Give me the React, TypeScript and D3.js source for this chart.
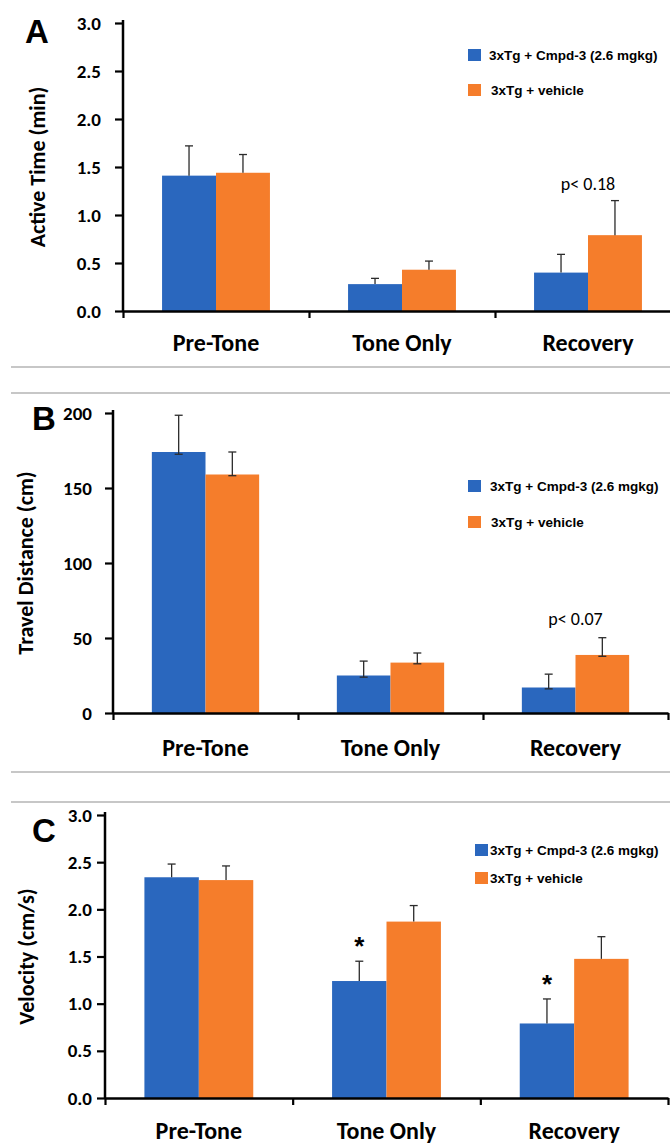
import React, { useRef, useEffect } from 'react'
import * as d3 from 'd3'

// categories + series
const categories = ['Pre-Tone', 'Tone Only', 'Recovery']
const seriesNames = ['3xTg + Cmpd-3 (2.6 mgkg)', '3xTg + vehicle']
const seriesColors = ['#2a67be', '#f57d2b']

// A - active time (min)
const activeCmpd = [1.41, 0.28, 0.40]
const activeCmpdErr = [0.31, 0.06, 0.19]
const activeVeh = [1.44, 0.43, 0.79]
const activeVehErr = [0.19, 0.09, 0.36]
const activeTicks = [0, 0.5, 1.0, 1.5, 2.0, 2.5, 3.0]

// B - travel distance (cm)
const distCmpd = [174, 25, 17]
const distCmpdErrUp = [24.5, 9.6, 8.9]
const distCmpdErrDown = [1.5, 1.1, 0.9]
const distVeh = [159, 33.6, 38.7]
const distVehErrUp = [15, 6.4, 11.5]
const distVehErrDown = [0.8, 0.8, 0.9]
const distTicks = [0, 50, 100, 150, 200]

// C - velocity (cm/s)
const velCmpd = [2.34, 1.24, 0.79]
const velCmpdErr = [0.14, 0.21, 0.26]
const velVeh = [2.31, 1.87, 1.475]
const velVehErr = [0.15, 0.17, 0.235]
const velTicks = [0, 0.5, 1.0, 1.5, 2.0, 2.5, 3.0]

const calibri = 'Carlito, Calibri, Lato, sans-serif'
const arial = 'Arial, "Liberation Sans", sans-serif'

const panels = [
    {
        letter: 'A', letterX: 25, letterY: 43,
        title: 'Active Time (min)', titleX: 37,
        x0: 123, x1: 681, yTop: 23, yBottom: 311, max: 3,
        ticks: activeTicks, fmt: d3.format('.1f'), labelGap: 22,
        values: [activeCmpd, activeVeh],
        errUp: [activeCmpdErr, activeVehErr],
        errDown: null,
        legendX: [468, 468], legendTextX: [489, 491], legendY: [49, 84],
        note: { text: 'p< 0.18', cat: 2, y: 190 },
        stars: [],
        catLabelY: 351,
    },
    {
        letter: 'B', letterX: 32, letterY: 430,
        title: 'Travel Distance (cm)', titleX: 25,
        x0: 113, x1: 668, yTop: 413, yBottom: 713, max: 200,
        ticks: distTicks, fmt: d3.format('d'), labelGap: 21,
        values: [distCmpd, distVeh],
        errUp: [distCmpdErrUp, distVehErrUp],
        errDown: [distCmpdErrDown, distVehErrDown],
        legendX: [468, 468], legendTextX: [490, 491], legendY: [480, 516],
        note: { text: 'p< 0.07', cat: 2, y: 625 },
        stars: [],
        catLabelY: 756,
    },
    {
        letter: 'C', letterX: 32, letterY: 842,
        title: 'Velocity (cm/s)', titleX: 26,
        x0: 105, x1: 668, yTop: 815, yBottom: 1098, max: 3,
        ticks: velTicks, fmt: d3.format('.1f'), labelGap: 13,
        values: [velCmpd, velVeh],
        errUp: [velCmpdErr, velVehErr],
        errDown: null,
        legendX: [475, 475], legendTextX: [490, 490], legendY: [844, 872],
        note: null,
        stars: [1, 2],
        catLabelY: 1139,
    },
]

const separators = [367, 393, 772, 802]

export default function App() {
    const svgRef = useRef<SVGSVGElement>(null)

    useEffect(() => {
        document.body.style.margin = '0'
        const svg = d3.select(svgRef.current)
        svg.selectAll('*').remove()

        svg.selectAll('.sep')
            .data(separators)
            .enter().append('line')
            .attr('x1', 11).attr('x2', 670)
            .attr('y1', d => d).attr('y2', d => d)
            .attr('stroke', '#b4b4b4')
            .attr('stroke-width', 1.5)

        panels.forEach(p => {
            const g = svg.append('g')
            const y = d3.scaleLinear().domain([0, p.max]).range([p.yBottom, p.yTop])
            const xCat = d3.scaleBand<string>()
                .domain(categories)
                .range([p.x0, p.x1])
                .paddingInner(0.42)
                .paddingOuter(0.21)
            const xSeries = d3.scaleBand<number>()
                .domain([0, 1])
                .range([0, xCat.bandwidth()])
            const xEdge = d3.scaleLinear().domain([0, categories.length]).range([p.x0, p.x1])

            // bars
            p.values.forEach((vals, s) => {
                g.append('g').selectAll('rect')
                    .data(vals)
                    .enter().append('rect')
                    .attr('x', (d, i) => xCat(categories[i])! + xSeries(s)!)
                    .attr('y', d => y(d))
                    .attr('width', xSeries.bandwidth())
                    .attr('height', d => y(0) - y(d))
                    .attr('fill', seriesColors[s])
            })

            // error bars
            p.values.forEach((vals, s) => {
                const eg = g.append('g').attr('stroke', '#2b2b2b').attr('stroke-width', 1.3)
                vals.forEach((v, i) => {
                    const cx = xCat(categories[i])! + xSeries(s)! + xSeries.bandwidth() / 2
                    const top = y(v + p.errUp[s][i])
                    const bot = p.errDown ? y(v - p.errDown[s][i]) : y(v)
                    eg.append('line').attr('x1', cx).attr('x2', cx).attr('y1', top).attr('y2', bot)
                    eg.append('line').attr('x1', cx - 4).attr('x2', cx + 4).attr('y1', top).attr('y2', top)
                    if (p.errDown) {
                        eg.append('line').attr('x1', cx - 4).attr('x2', cx + 4).attr('y1', bot).attr('y2', bot)
                    }
                })
            })

            // y axis
            const yAxis = d3.axisLeft(y)
                .tickValues(p.ticks)
                .tickFormat(d => p.fmt(d as number))
                .tickSize(8)
                .tickSizeOuter(0)
                .tickPadding(p.labelGap - 8)
            const ya = g.append('g').attr('transform', `translate(${p.x0},0)`).call(yAxis)
            ya.select('.domain').attr('stroke', '#000').attr('stroke-width', 2.5)
                .attr('d', `M0,${p.yTop - 3}V${p.yBottom}`)
            ya.selectAll('.tick line').attr('stroke', '#000').attr('stroke-width', 2.2)
            ya.selectAll('.tick text')
                .attr('font-family', calibri)
                .attr('font-weight', 'bold')
                .attr('font-size', 19)
                .attr('fill', '#000')

            // x axis (ticks between categories)
            const xAxis = d3.axisBottom(xEdge)
                .tickValues([0, 1, 2, 3])
                .tickFormat(() => '')
                .tickSize(7)
                .tickSizeOuter(0)
            const xa = g.append('g').attr('transform', `translate(0,${p.yBottom})`).call(xAxis)
            xa.select('.domain').attr('stroke', '#000').attr('stroke-width', 2.5)
            xa.selectAll('.tick line').attr('stroke', '#000').attr('stroke-width', 2.2)

            // category labels
            g.append('g').selectAll('text')
                .data(categories)
                .enter().append('text')
                .attr('x', d => xCat(d)! + xCat.bandwidth() / 2)
                .attr('y', p.catLabelY)
                .attr('text-anchor', 'middle')
                .attr('font-family', calibri)
                .attr('font-weight', 'bold')
                .attr('font-size', 24)
                .text(d => d)

            // y title
            g.append('text')
                .attr('transform', `translate(${p.titleX},${(p.yTop + p.yBottom) / 2}) rotate(-90)`)
                .attr('text-anchor', 'middle')
                .attr('dominant-baseline', 'central')
                .attr('font-family', calibri)
                .attr('font-weight', 'bold')
                .attr('font-size', 22)
                .text(p.title)

            // panel letter
            g.append('text')
                .attr('x', p.letterX)
                .attr('y', p.letterY)
                .attr('font-family', arial)
                .attr('font-weight', 'bold')
                .attr('font-size', 33)
                .text(p.letter)

            // legend
            seriesNames.forEach((name, s) => {
                g.append('rect')
                    .attr('x', p.legendX[s])
                    .attr('y', p.legendY[s])
                    .attr('width', 13)
                    .attr('height', 12)
                    .attr('fill', seriesColors[s])
                g.append('text')
                    .attr('x', p.legendTextX[s])
                    .attr('y', p.legendY[s] + 6)
                    .attr('dominant-baseline', 'central')
                    .attr('font-family', arial)
                    .attr('font-weight', 'bold')
                    .attr('font-size', 13.5)
                    .text(name)
            })

            // p-value note
            if (p.note) {
                g.append('text')
                    .attr('x', xCat(categories[p.note.cat])! + xCat.bandwidth() / 2)
                    .attr('y', p.note.y)
                    .attr('text-anchor', 'middle')
                    .attr('font-family', calibri)
                    .attr('font-size', 18)
                    .text(p.note.text)
            }

            // significance stars
            p.stars.forEach(i => {
                const cx = xCat(categories[i])! + xSeries(0)! + xSeries.bandwidth() / 2
                g.append('text')
                    .attr('x', cx)
                    .attr('y', y(p.values[0][i] + p.errUp[0][i]) - 6)
                    .attr('text-anchor', 'middle')
                    .attr('font-family', arial)
                    .attr('font-weight', 'bold')
                    .attr('font-size', 26)
                    .text('*')
            })
        })
    }, [])

    return (
        <svg ref={svgRef} width={670} height={1144} style={{ display: 'block', background: '#fff' }} />
    )
}
